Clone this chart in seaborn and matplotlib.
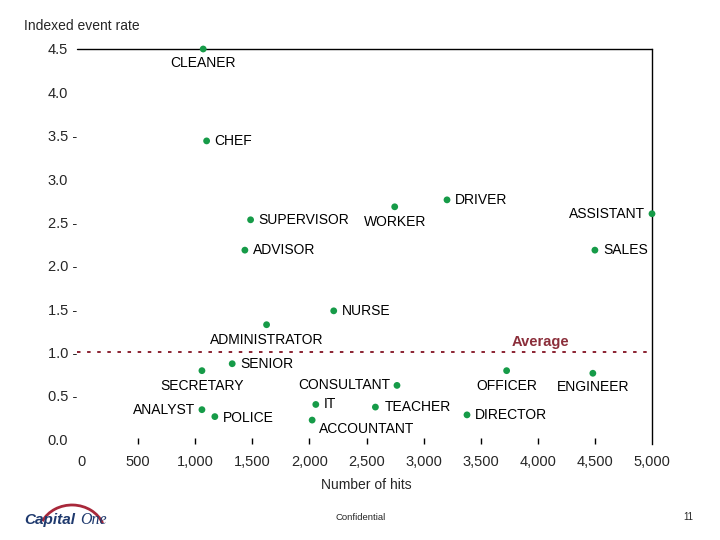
import matplotlib
matplotlib.use("Agg")
import matplotlib.pyplot as plt
import seaborn as sns
import pandas as pd
from matplotlib.patches import Arc

# ---- data ----
jobs = ["CLEANER", "CHEF", "SUPERVISOR", "ADVISOR", "WORKER", "DRIVER",
        "ASSISTANT", "SALES", "NURSE", "ADMINISTRATOR", "SENIOR", "SECRETARY",
        "ANALYST", "POLICE", "IT", "ACCOUNTANT", "CONSULTANT", "TEACHER",
        "DIRECTOR", "OFFICER", "ENGINEER"]
hits = [1070, 1100, 1485, 1435, 2747, 3205,
        5000, 4500, 2213, 1625, 1324, 1059,
        1059, 1172, 2056, 2024, 2767, 2578,
        3380, 3727, 4482]
event_rate = [4.50, 3.44, 2.53, 2.18, 2.68, 2.76,
              2.60, 2.18, 1.48, 1.32, 0.87, 0.79,
              0.34, 0.26, 0.40, 0.22, 0.62, 0.37,
              0.28, 0.79, 0.76]
average_rate = 1.0
x_ticks = [0, 500, 1000, 1500, 2000, 2500, 3000, 3500, 4000, 4500, 5000]
x_tick_labels = ["0", "500", "1,000", "1,500", "2,000", "2,500", "3,000",
                 "3,500", "4,000", "4,500", "5,000"]
y_ticks = [0.0, 0.5, 1.0, 1.5, 2.0, 2.5, 3.0, 3.5, 4.0, 4.5]
y_tick_labels = ["0.0", "0.5 -", "1.0 -", "1.5 -", "2.0 -", "2.5 -",
                 "3.0", "3.5 -", "4.0", "4.5"]

# label placement (pixel offsets dx, dy, horizontal alignment)
placement = {
    "CLEANER": (0, -14, "center"), "CHEF": (8, 0, "left"),
    "SUPERVISOR": (8, 0, "left"), "ADVISOR": (8, 0, "left"),
    "WORKER": (0, -15, "center"), "DRIVER": (8, 0, "left"),
    "ASSISTANT": (-7, 0, "right"), "SALES": (8, 0, "left"),
    "NURSE": (8, 0, "left"), "ADMINISTRATOR": (0, -15, "center"),
    "SENIOR": (8, 0, "left"), "SECRETARY": (0, -15, "center"),
    "ANALYST": (-7, 0, "right"), "POLICE": (8, -1, "left"),
    "IT": (8, 0, "left"), "ACCOUNTANT": (7, -9, "left"),
    "CONSULTANT": (-7, 0, "right"), "TEACHER": (9, 0, "left"),
    "DIRECTOR": (8, 0, "left"), "OFFICER": (0, -15, "center"),
    "ENGINEER": (0, -14, "center"),
}

sns.set_theme(style="white")
plt.rcParams["font.family"] = ["Liberation Sans", "DejaVu Sans"]

df = pd.DataFrame({"job": jobs, "hits": hits, "rate": event_rate})

fig = plt.figure(figsize=(7.2, 5.4), dpi=100)
ax = fig.add_axes([81 / 720, 1 - 444 / 540, (652 - 81) / 720, (444 - 49) / 540])

green = "#169B48"
sns.scatterplot(data=df, x="hits", y="rate", ax=ax, color=green, s=24,
                edgecolor="none", zorder=4, clip_on=False)

ax.set_xlim(0, 5000)
ax.set_ylim(4.5 - (444 - 49) / 86.7, 4.5)

# average line
ax.axhline(average_rate, xmin=-0.007, color="#8B2332", lw=1.4,
           ls=(0, (1.8, 3.4)), zorder=2, clip_on=False)
ax.annotate("Average", xy=(4000, average_rate), xytext=(3, 10),
            textcoords="offset pixels", ha="center", va="center",
            fontsize=10.5, fontweight="bold", color="#8B2E3A")

for j, xv, yv in zip(jobs, hits, event_rate):
    dx, dy, ha = placement[j]
    ax.annotate(j, xy=(xv, yv), xytext=(dx, dy), textcoords="offset pixels",
                ha=ha, va="center", fontsize=10, color="black")

# spines
for s in ["left", "bottom", "top"]:
    ax.spines[s].set_visible(False)
ax.spines["right"].set_visible(True)
ax.spines["right"].set_color("black")
ax.spines["right"].set_linewidth(1.0)
ax.axhline(4.5, xmin=-0.007, xmax=1.0, color="black", lw=1.0,
           clip_on=False, zorder=3)

# ticks
ax.set_xticks(x_ticks)
ax.set_xticklabels(x_tick_labels, fontsize=10.5)
ax.tick_params(axis="x", which="major", bottom=True, direction="in",
               length=4, width=1, color="black", pad=8)
xt = ax.xaxis.get_major_ticks()
xt[0].tick1line.set_visible(False)
xt[-1].tick1line.set_visible(False)
ax.set_yticks(y_ticks)
ax.set_yticklabels(y_tick_labels, fontsize=10.5, ha="left")
ax.tick_params(axis="y", length=0, pad=24)

ax.set_xlabel("")
ax.set_ylabel("")
ax.grid(False)

fig.text(366 / 720, 1 - 485 / 540, "Number of hits", ha="center", va="center",
         fontsize=10)
fig.text(24 / 720, 1 - 26 / 540, "Indexed event rate", ha="left", va="center",
         fontsize=10)
fig.text(361 / 720, 1 - 517 / 540, "Confidential", ha="center", va="center",
         fontsize=6.8)
fig.text(688 / 720, 1 - 517 / 540, "11", ha="center", va="center", fontsize=7)

# logo
fig.text(24 / 720, 1 - 520 / 540, "Capital", ha="left", va="center",
         fontsize=11, fontweight="bold", fontstyle="italic", color="#1F3A6E")
fig.text(80 / 720, 1 - 520 / 540, "One", ha="left", va="center",
         fontsize=11.5, fontstyle="italic", family="Liberation Serif",
         color="#1F3A6E")
fig.add_artist(Arc((72 / 720, 1 - 534 / 540), 66 / 720, 58 / 540, theta1=25,
                   theta2=150, color="#A8283A", lw=2.0,
                   transform=fig.transFigure))

fig.savefig("out.png", dpi=100, facecolor="white")
